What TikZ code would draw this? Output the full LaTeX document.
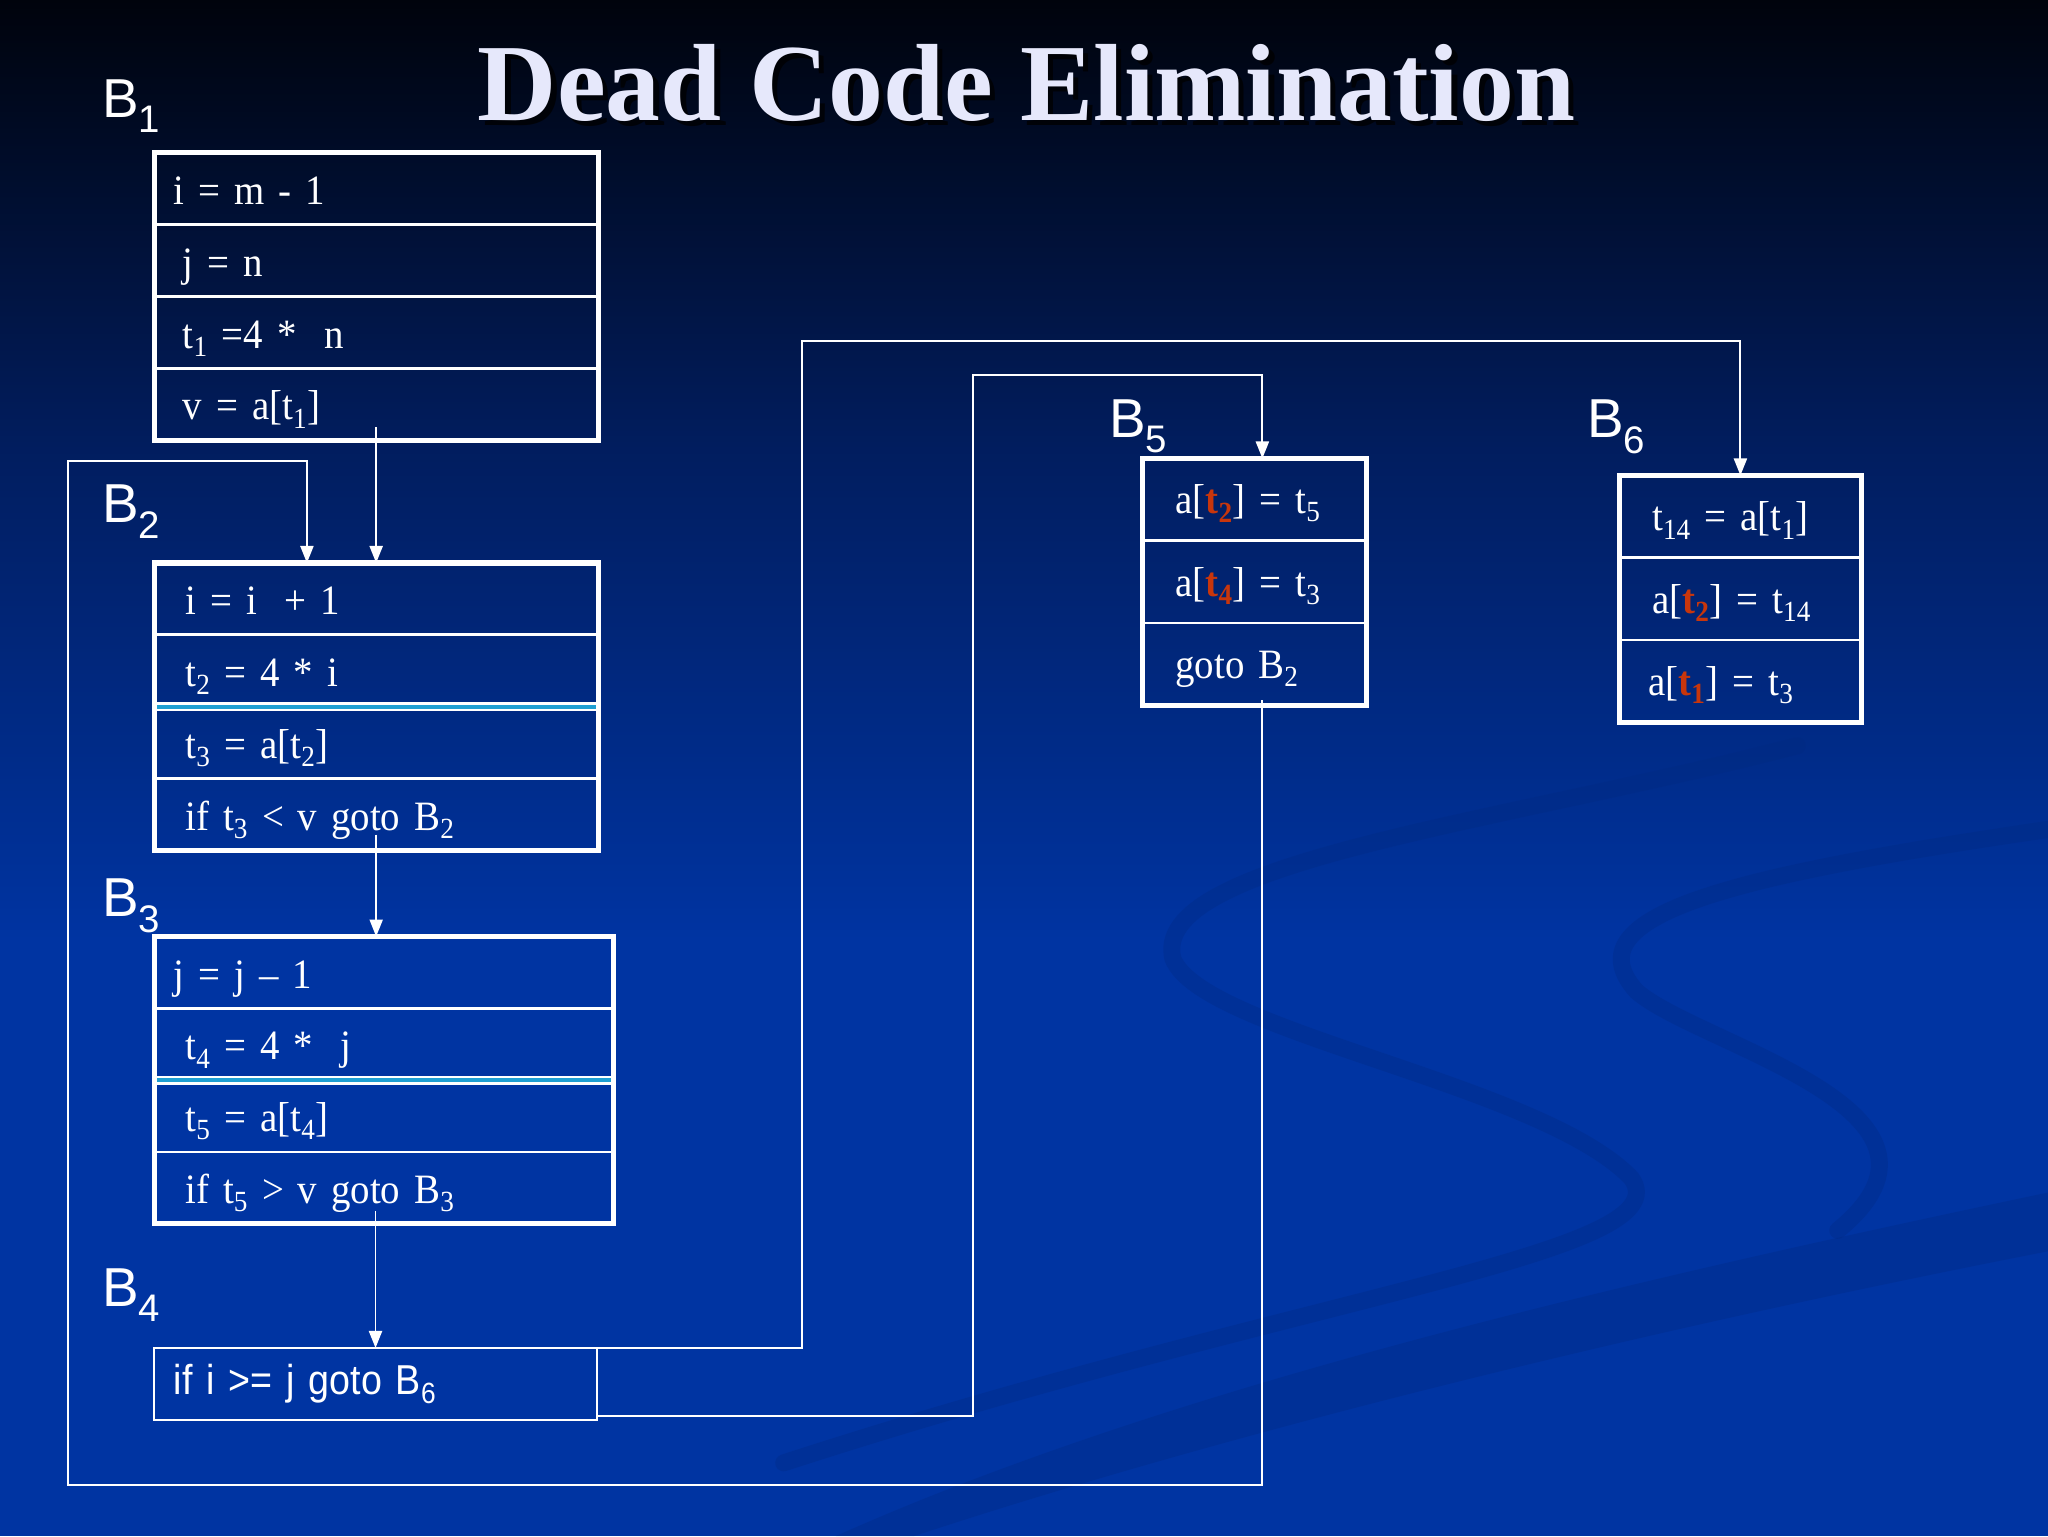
\documentclass[tikz,border=0pt]{standalone}
\usepackage{fontspec}
\setmainfont{Liberation Serif}
\newfontfamily\codefont[FakeStretch=0.93,WordSpace=0.7]{Liberation Serif}
\newfontfamily\labelfont{Liberation Sans}
\newfontfamily\narrowsans[FakeStretch=0.9]{Liberation Sans}
\usepackage{tikz}
\usetikzlibrary{positioning,arrows.meta}
\definecolor{bgtop}{HTML}{00030C}
\definecolor{bgmid}{HTML}{011D5E}
\definecolor{bgbot}{HTML}{0034A2}
\definecolor{swoosh}{HTML}{00297F}
\definecolor{titlecol}{HTML}{E6E8FB}
\definecolor{hotred}{HTML}{C8360C}
\definecolor{sepcyan}{HTML}{1E9FD2}
\newcommand{\hot}[1]{\textcolor{hotred}{\textbf{#1}}}
\newcommand{\ts}[1]{\textsubscript{#1}}

\begin{document}
\begin{tikzpicture}[x=1pt,y=-1pt,>={Triangle[length=13pt,width=10pt]},
  code/.style={draw=white,line width=2pt,text=white,outer sep=0pt,inner ysep=0pt,
    font=\codefont\fontsize{32}{38}\selectfont,align=left,text height=26pt,text depth=2pt,anchor=north west},
  frame/.style={draw=white,line width=4pt},
  cutline/.style={draw=white,line width=7pt},
  flow/.style={draw=white,line width=1.5pt,->},
  blabel/.style={text=white,font=\labelfont\fontsize{42}{46}\selectfont,anchor=base west,inner sep=0pt},
  title/.style={font=\fontsize{84}{90}\selectfont\bfseries,anchor=base,inner sep=0pt}]
\useasboundingbox (0,0) rectangle (1568,1176);
% background
\shade[top color=bgtop,bottom color=bgmid] (0,0) rectangle (1568,340);
\shade[top color=bgmid,bottom color=bgbot] (0,339) rectangle (1568,720);
\fill[bgbot] (0,719) rectangle (1568,1176);
\begin{scope}[swoosh,opacity=.3,line width=13pt,line cap=round]
\draw (1376,571) .. controls (1144,631) and (880,660) .. (898,734)
  .. controls (920,790) and (1180,830) .. (1249,902)
  .. controls (1290,960) and (1000,990) .. (600,1120);
\draw (1568,635) .. controls (1330,670) and (1200,700) .. (1253,759)
  .. controls (1300,800) and (1520,850) .. (1407,942);
\fill (1568,913) -- (1568,958) .. controls (1200,1030) and (900,1110) .. (700,1176)
  -- (640,1176) .. controls (900,1060) and (1250,980) .. cycle;
\end{scope}

% title
\node[title,text=black,opacity=.75] (titleshade) at (790,96) {Dead Code Elimination};
\node[title,text=titlecol] (title) at (786,92) {Dead Code Elimination};

% B1
\node[blabel] (l1) at (78,90) {B\ts{1}};
\begin{scope}[every node/.append style={code,minimum height=55pt,inner xsep=22pt,text width=296pt}]
\node (b1a) at (118,117) {\hspace*{-7pt}i = m - 1};
\node (b1b) [below=0pt of b1a] {j = n};
\node (b1c) [below=0pt of b1b] {t\ts{1} =4 *~~n};
\node (b1d) [below=0pt of b1c] {v = a[t\ts{1}]};
\end{scope}
\draw[frame] (b1a.north west) rectangle (b1d.south east);

% B2
\node[blabel] (l2) at (78,400) {B\ts{2}};
\begin{scope}[every node/.append style={code,minimum height=55pt,inner xsep=24pt,text width=292pt}]
\node (b2a) at (118,431) {i = i~~+ 1};
\node (b2b) [below=0pt of b2a] {t\ts{2} = 4 * i};
\node (b2c) [below=0pt of b2b] {t\ts{3} = a[t\ts{2}]};
\node (b2d) [below=0pt of b2c] {if t\ts{3} < v goto B\ts{2}};
\end{scope}
\draw[cutline] (b2b.south west) -- (b2b.south east);
\draw[sepcyan,line width=3pt] (b2b.south west) -- (b2b.south east);
\draw[frame] (b2a.north west) rectangle (b2d.south east);

% B3
\node[blabel] (l3) at (78,702) {B\ts{3}};
\begin{scope}[every node/.append style={code,minimum height=55pt,inner xsep=24pt,text width=304pt}]
\node (b3a) at (118,717) {\hspace*{-9pt}j = j – 1};
\node (b3b) [below=0pt of b3a] {t\ts{4} = 4 *~~j};
\node (b3c) [below=0pt of b3b] {t\ts{5} = a[t\ts{4}]};
\node (b3d) [below=0pt of b3c] {if t\ts{5} > v goto B\ts{3}};
\end{scope}
\draw[cutline] (b3b.south west) -- (b3b.south east);
\draw[sepcyan,line width=3pt] (b3b.south west) -- (b3b.south east);
\draw[frame] (b3a.north west) rectangle (b3d.south east);

% B4
\node[blabel] (l4) at (78,1000) {B\ts{4}};
\node[draw=white,line width=1.5pt,text=white,anchor=north west,outer sep=0pt,
  minimum width=339pt,minimum height=55pt,inner xsep=15pt,text width=309pt,align=left,
  font=\narrowsans\fontsize{32}{38}\selectfont] (b4) at (118,1032) {if i >= j goto B\ts{6}};

% B5
\node[blabel] (l5) at (849,335) {B\ts{5}};
\begin{scope}[every node/.append style={code,minimum height=63pt,inner xsep=25pt,text width=121pt,text height=24pt}]
\node (b5a) at (875,351) {a[\hot{t\ts{2}}] = t\ts{5}};
\node (b5b) [below=0pt of b5a] {a[\hot{t\ts{4}}] = t\ts{3}};
\node (b5c) [below=0pt of b5b] {goto B\ts{2}};
\end{scope}
\draw[frame] (b5a.north west) rectangle (b5c.south east);

% B6
\node[blabel] (l6) at (1215,335) {B\ts{6}};
\begin{scope}[every node/.append style={code,minimum height=63pt,inner xsep=25pt,text width=135pt,text height=24pt}]
\node (b6a) at (1240,364) {t\ts{14} = a[t\ts{1}]};
\node (b6b) [below=0pt of b6a] {a[\hot{t\ts{2}}] = t\ts{14}};
\node (b6c) [below=0pt of b6b] {\hspace*{-3pt}a[\hot{t\ts{1}}] = t\ts{3}};
\end{scope}
\draw[frame] (b6a.north west) rectangle (b6c.south east);

% edges
\draw[flow] ([yshift=10pt]b1d.south) -- (b2a.north);
\draw[flow] ([yshift=12pt]b2d.south) -- (b2d.south |- b3a.north);
\draw[flow] ([yshift=10pt]b4.north |- b3d.south) -- (b4.north);
\draw[flow] (b4.north east) -- ++(157,0) -- ++(0,-771) -| (b6a.north);
\draw[flow] ([yshift=3pt]b4.south east) -- ++(288,0) -- ++(0,-797) -| ([xshift=6pt]b5a.north);
\draw[flow] ([xshift=6pt,yshift=4pt]b5c.south) |- ([xshift=-66pt,yshift=-50pt]b4.south west)
  |- ([xshift=-53pt,yshift=78pt]b2a.north) -- ([xshift=-53pt]b2a.north);
\end{tikzpicture}
\end{document}
